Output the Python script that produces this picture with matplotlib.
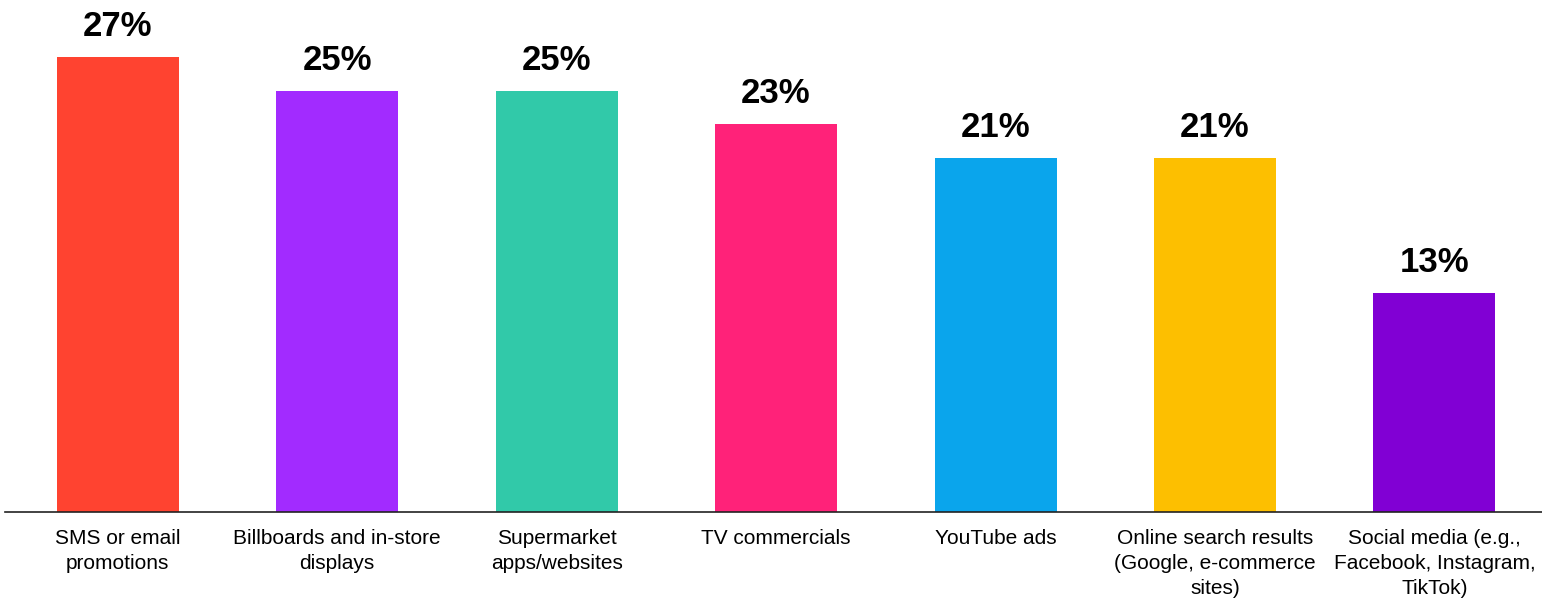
import matplotlib.pyplot as plt

categories = ['SMS or email\npromotions', 'Billboards and in-store\ndisplays',
              'Supermarket\napps/websites', 'TV commercials', 'YouTube ads',
              'Online search results\n(Google, e-commerce\nsites)',
              'Social media (e.g.,\nFacebook, Instagram,\nTikTok)']
values = [27, 25, 25, 23, 21, 21, 13]
colors = ['#FF4330', '#A22BFF', '#31C9A9', '#FF2279', '#0AA5EC', '#FDBF00', '#8100D4']

plt.rcParams['font.family'] = ['Liberation Sans', 'DejaVu Sans']

fig = plt.figure(figsize=(15.42, 5.98), dpi=100)
ax = fig.add_axes([0.003, 0.1438, 0.997, 0.8453])

x = range(len(values))
ax.bar(x, values, width=0.556, color=colors)
for i, v in zip(x, values):
    ax.text(i, v + 1.25, '%d%%' % v, ha='center', va='baseline',
            fontsize=25, fontweight='bold', color='black')

ax.set_xlim(-0.515, 6.49)
ax.set_ylim(0, 30)
ax.set_xticks(list(x))
ax.set_xticklabels(categories, fontsize=15, linespacing=1.42, va='top')
ax.set_yticks([])
for s in ['top', 'right', 'left']:
    ax.spines[s].set_visible(False)
ax.spines['bottom'].set_linewidth(1.2)
ax.spines['bottom'].set_color('#222222')
ax.tick_params(axis='x', length=0, pad=12)

fig.savefig('out.png', dpi=100)
